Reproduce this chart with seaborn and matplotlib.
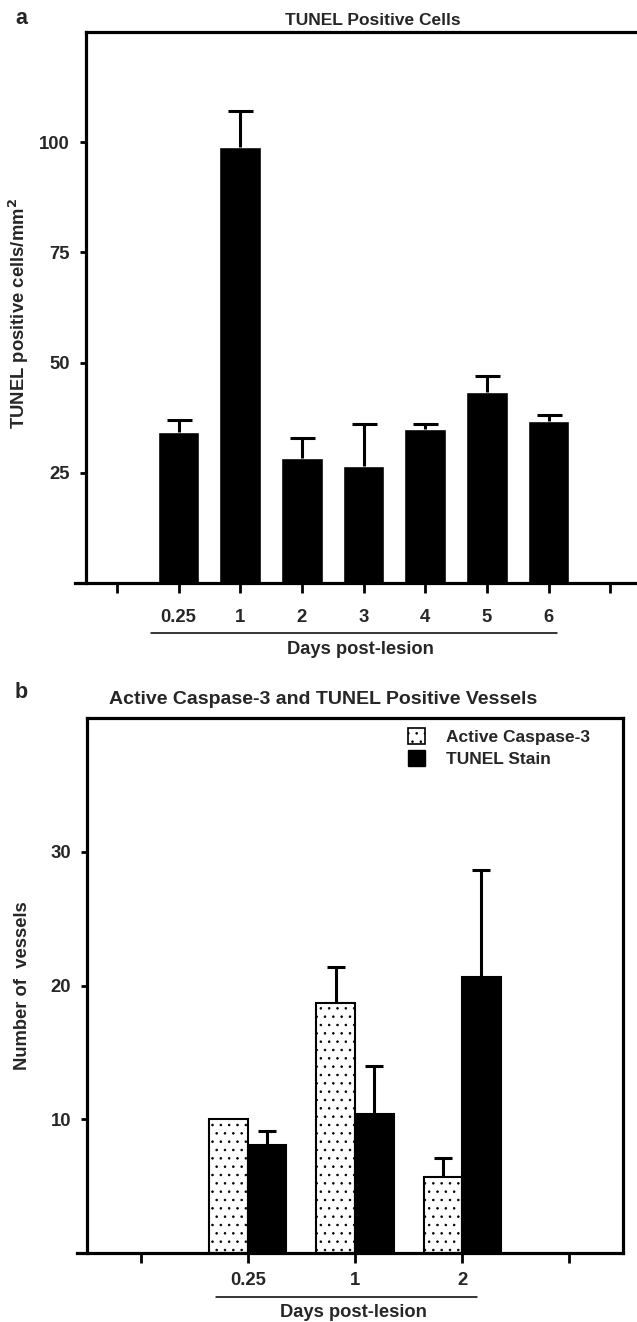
#!/usr/bin/env python3
"""
Two-panel bar chart: TUNEL positive cells (a) and
Active Caspase-3 / TUNEL positive vessels (b).
Outputs: out.png
"""
import numpy as np
import pandas as pd
import matplotlib
matplotlib.use("Agg")
import matplotlib.pyplot as plt
import seaborn as sns
from matplotlib.patches import Patch

# ---- panel a data ----
days_a = ["0.25", "1", "2", "3", "4", "5", "6"]
tunel_cells = [34.3, 98.9, 28.4, 26.6, 35.0, 43.4, 36.8]
tunel_cells_sem = [2.7, 8.2, 4.6, 9.5, 1.1, 3.6, 1.2]

# ---- panel b data ----
days_b = ["0.25", "1", "2"]
stains = ["Active Caspase-3", "TUNEL Stain"]
caspase_vessels = [10.0, 18.7, 5.7]
caspase_sem = [0.0, 2.7, 1.4]
tunel_vessels = [8.1, 10.4, 20.6]
tunel_sem = [1.0, 3.6, 8.0]

# empty slots at both ends of the category axis
order_a = ["pad_l"] + days_a + ["pad_r"]
order_b = ["pad_l"] + days_b + ["pad_r"]

sns.set_theme(style="ticks")
plt.rcParams.update({
    "font.family": ["Liberation Sans", "DejaVu Sans"],
    "font.weight": "bold",
    "axes.labelweight": "bold",
    "axes.titleweight": "bold",
    "hatch.linewidth": 0.6,
})

W, H = 637, 1322
fig = plt.figure(figsize=(W / 100, H / 100), dpi=100)


def px_axes(left, top, right, bottom):
    return fig.add_axes([left / W, 1 - bottom / H, (right - left) / W, (bottom - top) / H])


def upper_errorbars(ax, bars, errs, capsize):
    # one-sided (upper) SEM bars, no cap at the bar top
    bars = sorted(bars, key=lambda p: p.get_x())
    for p, e in zip(bars, errs):
        if e <= 0:
            continue
        x = p.get_x() + p.get_width() / 2
        h = p.get_height()
        cont = ax.errorbar(x, h, yerr=[[0], [e]], fmt="none", ecolor="black",
                           elinewidth=2.2, capsize=capsize, capthick=2.2, zorder=3)
        for cl in cont[1]:
            if np.allclose(cl.get_ydata(), h):
                cl.remove()


def style_axes(ax, ext):
    for s in ax.spines.values():
        s.set_visible(True)
        s.set_linewidth(2.3)
        s.set_color("black")
    lo, hi = ax.get_xlim()
    ax.spines["bottom"].set_bounds(lo - ext, hi)
    ax.tick_params(axis="y", length=4.5, width=2, pad=7, labelsize=13.3, color="black")
    ax.tick_params(axis="x", length=7, width=2, labelsize=13.3, color="black")


# ---------------- panel a ----------------
ax1 = px_axes(86, 32, 641, 583)
df_a = pd.DataFrame({"day": days_a, "cells": tunel_cells})
sns.barplot(data=df_a, x="day", y="cells", order=order_a, color="black",
            saturation=1, width=0.68, errorbar=None, ax=ax1)
upper_errorbars(ax1, ax1.patches, tunel_cells_sem, capsize=9)
ax1.set_xlim(-0.5, len(order_a) - 0.5)
ax1.set_ylim(0, 125)
ax1.set_yticks([25, 50, 75, 100])
ax1.set_xticks(range(len(order_a)))
ax1.set_xticklabels([""] + days_a + [""])
style_axes(ax1, 0.18)
ax1.tick_params(axis="x", pad=12)
ax1.set_title("TUNEL Positive Cells", fontsize=12.5, x=0.517, pad=5)
ax1.set_ylabel("TUNEL positive cells/mm$^\\mathbf{2}$", fontsize=13.3)
ax1.yaxis.set_label_coords(-0.099, 0.49)
ax1.set_xlabel("Days post-lesion", fontsize=13.2)
ax1.xaxis.set_label_coords(0.494, -0.106)
ax1.plot([0.546, 7.14], [-0.0907, -0.0907], color="black", lw=1.1,
         transform=ax1.get_xaxis_transform(), clip_on=False)

# ---------------- panel b ----------------
ax2 = px_axes(87, 718, 623, 1253)
df_b = pd.DataFrame({
    "day": days_b * 2,
    "stain": [stains[0]] * len(days_b) + [stains[1]] * len(days_b),
    "vessels": caspase_vessels + tunel_vessels,
})
sns.barplot(data=df_b, x="day", y="vessels", hue="stain", order=order_b,
            hue_order=stains, palette={stains[0]: "white", stains[1]: "black"},
            saturation=1, width=0.72, errorbar=None, edgecolor="black",
            linewidth=1.5, legend=False, ax=ax2)
for p in ax2.containers[0]:
    p.set_hatch("..")
upper_errorbars(ax2, ax2.containers[0], caspase_sem, capsize=6.5)
upper_errorbars(ax2, ax2.containers[1], tunel_sem, capsize=6.5)
ax2.set_xlim(-0.5, len(order_b) - 0.5)
ax2.set_ylim(0, 40)
ax2.set_yticks([10, 20, 30])
ax2.set_xticks(range(len(order_b)))
ax2.set_xticklabels([""] + days_b + [""])
style_axes(ax2, 0.093)
ax2.tick_params(axis="x", pad=7)
ax2.set_title("Active Caspase-3 and TUNEL Positive Vessels", fontsize=14.0, x=0.44, pad=10)
ax2.set_ylabel("Number of  vessels", fontsize=13.2)
ax2.yaxis.set_label_coords(-0.104, 0.5)
ax2.set_xlabel("Days post-lesion", fontsize=13.2)
ax2.xaxis.set_label_coords(0.498, -0.095)
ax2.plot([0.70, 3.14], [-0.0822, -0.0822], color="black", lw=1.1,
         transform=ax2.get_xaxis_transform(), clip_on=False)

handles = [Patch(facecolor="white", edgecolor="black", hatch="..", linewidth=1.2),
           Patch(facecolor="black", edgecolor="black")]
ax2.legend(handles, stains, loc="upper left", bbox_to_anchor=(0.599, 0.981),
           frameon=False, fontsize=12.5, borderpad=0, borderaxespad=0,
           handlelength=1.0, handleheight=1.0, handletextpad=1.2, labelspacing=0.3)

fig.text(15 / W, 1 - 18 / H, "a", fontsize=15.5, fontweight="bold", va="center")
fig.text(15 / W, 1 - 693 / H, "b", fontsize=15.5, fontweight="bold", va="center")

fig.savefig("out.png", dpi=100)
plt.close(fig)
